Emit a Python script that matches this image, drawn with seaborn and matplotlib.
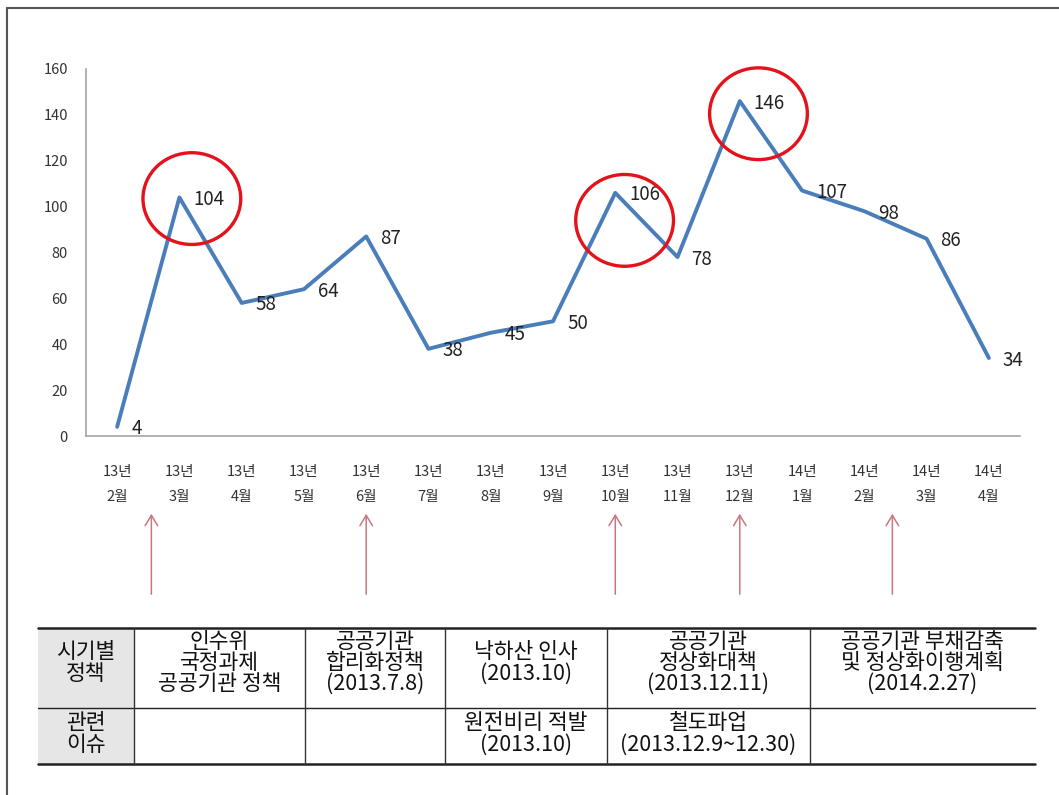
import matplotlib
matplotlib.use("Agg")
import matplotlib.pyplot as plt
import seaborn as sns
import pandas as pd
from matplotlib.patches import Ellipse, Rectangle
from matplotlib.lines import Line2D

# ---------------- data ----------------
years = ["13년"] * 11 + ["14년"] * 4
months = ["2월", "3월", "4월", "5월", "6월", "7월", "8월", "9월", "10월",
          "11월", "12월", "1월", "2월", "3월", "4월"]
values = [4, 104, 58, 64, 87, 38, 45, 50, 106, 78, 146, 107, 98, 86, 34]

# red circles (centre x in category units, centre y in value units)
circle_x = [1.2, 8.15, 10.3]
circle_y = [103.5, 94, 140.5]

# arrow positions (category units)
arrow_x = [0.55, 4, 8, 10, 12.45]

# table
row_headers = ["시기별\n정책", "관련\n이슈"]
policy_row = ["인수위\n국정과제\n공공기관 정책", "공공기관\n합리화정책\n(2013.7.8)",
              "낙하산 인사\n(2013.10)", "공공기관\n정상화대책\n(2013.12.11)",
              "공공기관 부채감축\n및 정상화이행계획\n(2014.2.27)"]
issue_row = ["", "", "원전비리 적발\n(2013.10)", "철도파업\n(2013.12.9~12.30)", ""]

# ---------------- style ----------------
sns.set_style("white")
plt.rcParams['font.family'] = ['Noto Sans CJK KR', 'DejaVu Sans']

W, H = 1059, 795
fig = plt.figure(figsize=(W / 100, H / 100), dpi=100)


def fx(x):
    return x / W


def fy(y):
    return 1 - y / H


ax = fig.add_axes([fx(86), fy(436), fx(1020) - fx(86), fy(69) - fy(436)])

df = pd.DataFrame({"idx": range(len(values)), "value": values})
sns.lineplot(data=df, x="idx", y="value", ax=ax, color="#4a7ebb", linewidth=2.8)

ax.set_xlim(-0.5, len(values) - 0.5)
ax.set_ylim(0, 160)
ax.set_yticks(range(0, 161, 20))
ax.set_xticks(range(len(values)))
ax.set_xticklabels([f"{y}\n{m}" for y, m in zip(years, months)],
                   fontsize=10.5, linespacing=1.95, color="#333333")
ax.tick_params(axis="x", length=0, pad=21)
ax.tick_params(axis="y", length=0, pad=13, labelsize=10.5, labelcolor="#333333")
ax.set_xlabel("")
ax.set_ylabel("")
for s in ["top", "right"]:
    ax.spines[s].set_visible(False)
for s in ["left", "bottom"]:
    ax.spines[s].set_color("#a6a6a6")
    ax.spines[s].set_linewidth(1.2)

# data labels
for i, v in enumerate(values):
    ax.annotate(str(v), (i, v), xytext=(14, -2), textcoords="offset pixels",
                ha="left", va="center", fontsize=13.5, color="#222222")

# red circles
for cx, cy in zip(circle_x, circle_y):
    ax.add_patch(Ellipse((cx, cy), 1.57, 40, fill=False, edgecolor="#e3121b",
                         linewidth=2.4, clip_on=False, zorder=5))

# arrows below the x axis
for axp in arrow_x:
    xf = ax.transData.transform((axp, 0))[0] / W
    fig.add_artist(matplotlib.patches.FancyArrowPatch(
        (xf, fy(597)), (xf, fy(511)), transform=fig.transFigure,
        arrowstyle="->,head_length=5,head_width=3", color="#c8777e",
        linewidth=1.1, mutation_scale=1.5))

# ---------------- table ----------------
col_edges = [38, 134, 305, 445, 607, 810, 1035]
row_edges = [628, 708, 764]

fig.add_artist(Rectangle((fx(38), fy(764)), fx(134) - fx(38), fy(628) - fy(764),
                         transform=fig.transFigure, facecolor="#e6e6e6",
                         edgecolor="none", zorder=0))
for y, lw in zip(row_edges, [1.8, 1.0, 1.8]):
    fig.add_artist(Line2D([fx(38), fx(1035)], [fy(y), fy(y)],
                          transform=fig.transFigure, color="#222222", linewidth=lw))
for x in col_edges[1:-1]:
    fig.add_artist(Line2D([fx(x), fx(x)], [fy(628), fy(764)],
                          transform=fig.transFigure, color="#333333", linewidth=1.0))

rows = [[row_headers[0]] + policy_row, [row_headers[1]] + issue_row]
row_centers = [663, 734]
for r, cells in enumerate(rows):
    for c, txt in enumerate(cells):
        if not txt:
            continue
        xc = (col_edges[c] + col_edges[c + 1]) / 2
        fig.text(fx(xc), fy(row_centers[r]), txt, ha="center", va="center",
                 fontsize=15.5, linespacing=0.95, color="#111111")

# outer frame (top and left edges)
fig.add_artist(Line2D([fx(7), fx(1059)], [fy(8), fy(8)], transform=fig.transFigure,
                      color="#555555", linewidth=1.5))
fig.add_artist(Line2D([fx(7), fx(7)], [fy(8), fy(795)], transform=fig.transFigure,
                      color="#555555", linewidth=1.5))

fig.savefig("out.png", dpi=100)
